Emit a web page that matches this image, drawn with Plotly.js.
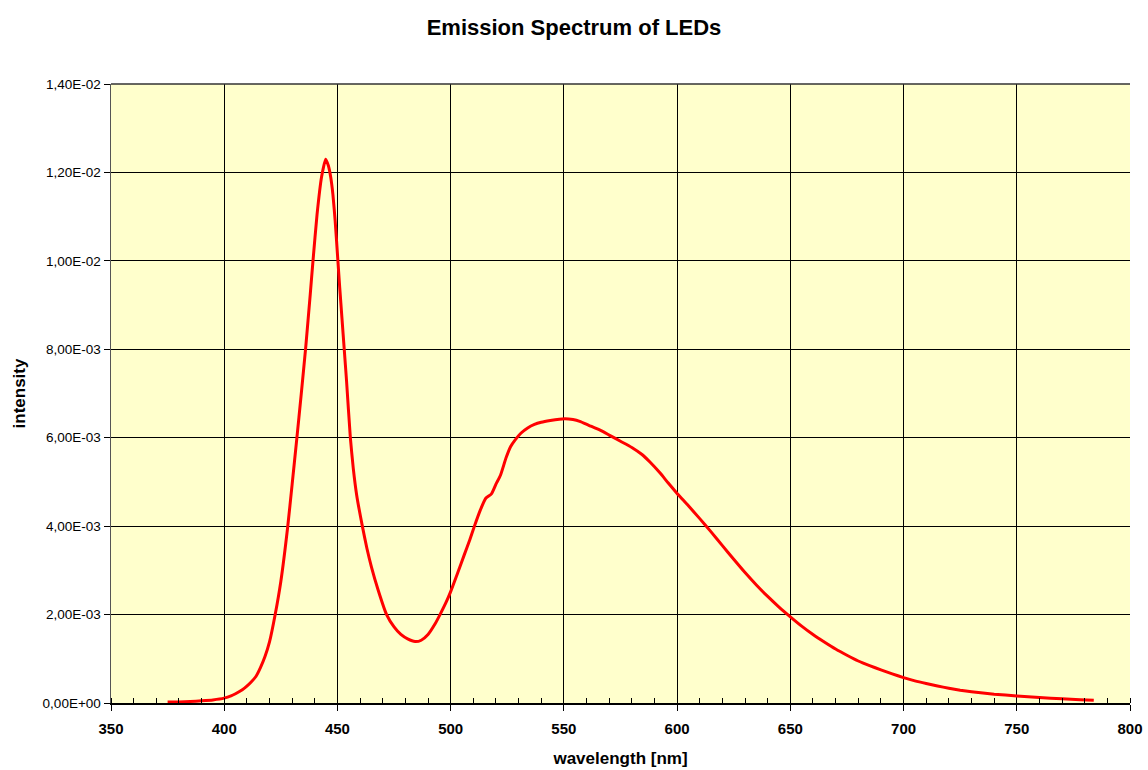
<!DOCTYPE html>
<html>
<head>
<meta charset="utf-8">
<script src="https://cdn.plot.ly/plotly-3.0.1.min.js"></script>
<style>html,body{margin:0;padding:0;background:#fff;}#chart{width:1148px;height:770px;}</style>
</head>
<body>
<div id="chart"></div>
<script>
// wavelength [nm]
const wavelength = [375,380,385,390,395,400,403,405,408,410,412,414,416,418,420,422.5,425,428,430,432,434,436,438,439.2,441,443,444.8,446,447,448,449,450.2,451,452,453,454,455.7,457,458.5,461,463,465,468,471.7,475,478,481,484.3,487,490,493,495.3,498,500,503,506,508.5,510.5,513,515.5,518,520,522,524.5,526.5,528.5,531,534,537,540,544,548,550.5,554,557,561,566,570,575,580,584.5,588,592.5,596,600,605,610,615,620,625,630,635,640,645,650,655,660,665,670,675,680,685,690,695,700,705,710,715,720,725,730,740,750,760,770,778,784];
// intensity in units of 1e-3
const intensityE3 = [0.02,0.025,0.035,0.05,0.07,0.11,0.16,0.21,0.3,0.38,0.48,0.6,0.8,1.05,1.38,2.0,2.75,3.97,4.95,5.95,6.98,8.05,9.25,10.0,11.05,11.9,12.3,12.15,11.9,11.5,10.9,10.0,9.4,8.7,8.0,7.3,6.0,5.3,4.7,4.0,3.5,3.08,2.55,2.0,1.72,1.55,1.45,1.39,1.42,1.55,1.78,2.0,2.28,2.52,2.93,3.35,3.7,4.0,4.35,4.63,4.73,4.95,5.15,5.55,5.8,5.95,6.1,6.22,6.3,6.35,6.39,6.42,6.43,6.41,6.37,6.28,6.17,6.06,5.92,5.78,5.62,5.45,5.2,4.98,4.74,4.46,4.17,3.87,3.56,3.25,2.95,2.67,2.41,2.17,1.95,1.74,1.55,1.38,1.22,1.08,0.95,0.845,0.75,0.66,0.575,0.5,0.44,0.385,0.335,0.29,0.255,0.2,0.16,0.125,0.095,0.075,0.06];
const intensity = intensityE3.map(v => v * 1e-3);

const yTickVals = [0, 0.002, 0.004, 0.006, 0.008, 0.010, 0.012, 0.014];
const yTickText = ["0,00E+00","2,00E-03","4,00E-03","6,00E-03","8,00E-03","1,00E-02","1,20E-02","1,40E-02"];
const xTickVals = [350,400,450,500,550,600,650,700,750,800];

const trace = {
  x: wavelength,
  y: intensity,
  type: 'scatter',
  mode: 'lines',
  line: {color: '#FF0000', width: 3, shape: 'spline', smoothing: 0.5},
  hoverinfo: 'x+y'
};

const layout = {
  width: 1148,
  height: 770,
  margin: {l: 111, r: 18, t: 84, b: 67},
  paper_bgcolor: '#FFFFFF',
  plot_bgcolor: '#FFFFCC',
  showlegend: false,
  font: {family: 'Liberation Sans, Arial, sans-serif', color: '#000'},
  title: {
    text: '<b>Emission Spectrum of LEDs</b>',
    font: {size: 22, family: 'Liberation Sans, Arial, sans-serif', color: '#000'},
    x: 0.5, xanchor: 'center', y: 0.965, yanchor: 'middle'
  },
  xaxis: {
    range: [350, 800],
    tickmode: 'array',
    tickvals: xTickVals,
    ticktext: xTickVals.map(v => '<b>' + v + '</b>'),
    tickfont: {size: 15, color: '#000'},
    ticks: 'outside', ticklen: 6, tickwidth: 1, tickcolor: '#000',
    ticklabelstandoff: 5,
    minor: {dtick: 10, ticks: 'inside', ticklen: 5, tickwidth: 1, tickcolor: '#000', showgrid: false},
    showgrid: true, gridcolor: '#000000', gridwidth: 1,
    showline: true, linecolor: '#000', linewidth: 2, mirror: false,
    zeroline: false,
    title: {text: '<b>wavelength [nm]</b>', font: {size: 17, color: '#000'}, standoff: 16}
  },
  yaxis: {
    range: [0, 0.014],
    tickmode: 'array',
    tickvals: yTickVals,
    ticktext: yTickText,
    tickfont: {size: 13.5, color: '#000'},
    ticks: 'outside', ticklen: 6, tickwidth: 1, tickcolor: '#000',
    showgrid: true, gridcolor: '#000000', gridwidth: 1,
    showline: true, linecolor: '#555', linewidth: 1.5, mirror: false,
    zeroline: false,
    title: {text: '<b>intensity</b>', font: {size: 17, color: '#000'}, standoff: 12}
  },
  shapes: [
    {type: 'line', xref: 'paper', yref: 'paper', x0: 0, x1: 1, y0: 1, y1: 1, line: {color: '#333', width: 1.5}}
  ]
};

Plotly.newPlot('chart', [trace], layout, {displayModeBar: false, staticPlot: true});
</script>
</body>
</html>
